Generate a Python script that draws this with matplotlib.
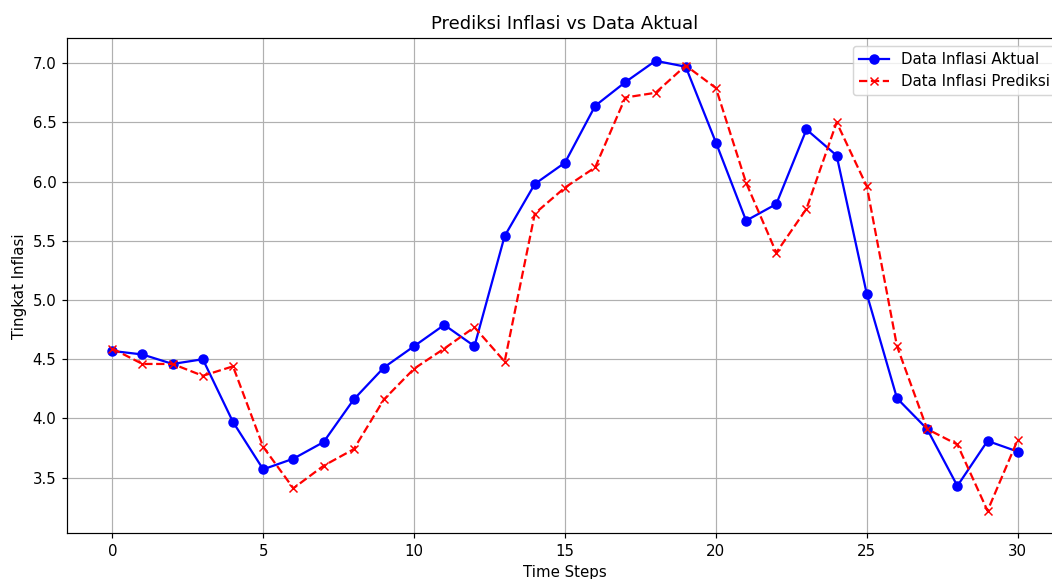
import numpy as np
import matplotlib
matplotlib.use('Agg')
import matplotlib.pyplot as plt

# Data inflasi aktual dan hasil prediksi per time step
time_steps = np.arange(0, 31)
inflasi_aktual = [4.57, 4.54, 4.46, 4.50, 3.97, 3.57, 3.66, 3.80, 4.16, 4.43,
                  4.61, 4.79, 4.61, 5.54, 5.98, 6.16, 6.64, 6.84, 7.02, 6.97,
                  6.33, 5.67, 5.81, 6.44, 6.22, 5.05, 4.17, 3.91, 3.43, 3.81,
                  3.72]
inflasi_prediksi = [4.59, 4.46, 4.46, 4.36, 4.44, 3.76, 3.41, 3.60, 3.74, 4.16,
                    4.42, 4.59, 4.77, 4.48, 5.73, 5.95, 6.12, 6.71, 6.75, 6.98,
                    6.79, 5.99, 5.40, 5.77, 6.50, 5.96, 4.61, 3.91, 3.78, 3.22,
                    3.82]

# dpi sedikit lebih besar supaya ukuran teks & marker sama dengan gambar asli
dpi = 107.7
fig = plt.figure(figsize=(1052 / dpi, 579 / dpi), dpi=dpi)
ax = fig.add_axes([67 / 1052, 1 - 533.3 / 579, (1063 - 67) / 1052, 495 / 579])

ax.plot(time_steps, inflasi_aktual, 'bo-', label='Data Inflasi Aktual')
ax.plot(time_steps, inflasi_prediksi, 'rx--', label='Data Inflasi Prediksi')
ax.set_title('Prediksi Inflasi vs Data Aktual', fontsize=12)
ax.set_xlabel('Time Steps')
ax.set_ylabel('Tingkat Inflasi')
ax.legend(loc='upper right')
ax.grid(True)

fig.savefig('out.png', dpi=dpi)
